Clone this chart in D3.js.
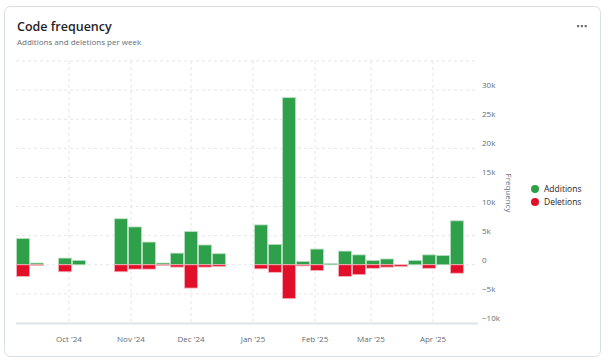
<!DOCTYPE html>
<html lang="en">
<head>
  <meta charset="UTF-8">
  <title>Code frequency</title>
  <script src="https://d3js.org/d3.v7.min.js"></script>
  <style>
    body { margin: 0; background: #fff; font-family: "Open Sans", "Noto Sans", sans-serif; }
  </style>
</head>
<body>
  <svg width="606" height="363"></svg>

  <script>
    // Weekly data (week start, Sunday)
    const firstWeek = "2024-09-08";
    const weekCount = 33;
    const additions = [4500, 300, 0, 1150, 750, 0, 0, 7900, 6500, 3900, 300, 2000, 5700, 3400, 1900, 0, 0,
                       6850, 3500, 28700, 570, 2700, 200, 2350, 1700, 750, 1000, 0, 750, 1700, 1600, 7550, 0];
    const deletions = [-2000, -100, 0, -1200, 0, 0, 0, -1200, -750, -750, -100, -400, -4000, -400, -300, 0, 0,
                       -700, -1300, -5800, -200, -1000, 0, -2000, -1700, -600, -400, -300, 0, -600, 0, -1450, 0];
    const yTicks = [-10000, -5000, 0, 5000, 10000, 15000, 20000, 25000, 30000];
    const monthTicks = ["2024-10-01", "2024-11-01", "2024-12-01", "2025-01-01", "2025-02-01", "2025-03-01", "2025-04-01"];
    const legendItems = ["Additions", "Deletions"];

    const green = "#2fa04a";
    const red = "#e20f2b";

    const svg = d3.select("svg");
    const parse = d3.timeParse("%Y-%m-%d");
    const start = parse(firstWeek);
    const weeks = d3.range(weekCount).map(i => d3.timeDay.offset(start, i * 7));
    const halfWeek = 3.5 * 24 * 3600 * 1000;

    const x = d3.scaleTime()
      .domain([new Date(+weeks[0] - halfWeek), new Date(+weeks[weekCount - 1] + halfWeek)])
      .range([16, 478]);
    const y = d3.scaleLinear().domain([-10000, 35000]).range([323, 61]);
    const bw = x(weeks[1]) - x(weeks[0]);

    // card
    svg.append("rect")
      .attr("x", 4.5).attr("y", 6.5).attr("width", 596).attr("height", 350)
      .attr("rx", 6).attr("fill", "#fff").attr("stroke", "#d8dee4");

    svg.append("text").attr("x", 17).attr("y", 31)
      .attr("font-size", 12.5).attr("font-weight", 600).attr("fill", "#1f2328")
      .text("Code frequency");
    svg.append("text").attr("x", 17).attr("y", 45)
      .attr("font-size", 8).attr("fill", "#656d76")
      .text("Additions and deletions per week");

    // menu dots
    svg.selectAll(".dot").data([0, 1, 2]).enter().append("rect")
      .attr("x", d => 577 + d * 3.8).attr("y", 25).attr("width", 2.2).attr("height", 2.2)
      .attr("fill", "#6b737d");

    // horizontal grid
    svg.selectAll(".hgrid").data(d3.range(-5000, 35001, 5000)).enter().append("line")
      .attr("x1", 16).attr("x2", 478)
      .attr("y1", d => y(d)).attr("y2", d => y(d))
      .attr("stroke", "#e4e6e9").attr("stroke-dasharray", "3,3");

    // vertical grid
    svg.selectAll(".vgrid").data(monthTicks.map(parse)).enter().append("line")
      .attr("x1", d => x(d)).attr("x2", d => x(d))
      .attr("y1", 61).attr("y2", 323)
      .attr("stroke", "#e4e6e9").attr("stroke-dasharray", "3,3");

    // bottom axis line
    svg.append("line").attr("x1", 16).attr("x2", 478).attr("y1", 323.5).attr("y2", 323.5)
      .attr("stroke", "#dfe3e8").attr("stroke-width", 2);

    // bars
    svg.selectAll(".add").data(weeks.filter((d, i) => additions[i] > 0)).enter().append("rect")
      .attr("x", d => x(d) - bw / 2 + 0.5)
      .attr("width", bw - 1)
      .attr("y", d => y(additions[weeks.indexOf(d)]))
      .attr("height", d => y(0) - y(additions[weeks.indexOf(d)]))
      .attr("fill", green).attr("stroke", "#b9dfc1").attr("stroke-width", 0.8);

    svg.selectAll(".del").data(weeks.filter((d, i) => deletions[i] < 0)).enter().append("rect")
      .attr("x", d => x(d) - bw / 2 + 0.5)
      .attr("width", bw - 1)
      .attr("y", y(0))
      .attr("height", d => y(deletions[weeks.indexOf(d)]) - y(0))
      .attr("fill", red).attr("stroke", "#f4b3bb").attr("stroke-width", 0.8);

    // y tick labels
    svg.selectAll(".ylab").data(yTicks).enter().append("text")
      .attr("x", 482).attr("y", d => y(d) - 2)
      .attr("font-size", 8).attr("fill", "#656d76")
      .text(d => d === 0 ? "0" : d3.format("d")(d / 1000) + "k");

    // x tick labels
    const fmt = d3.timeFormat("%b '%y");
    svg.selectAll(".xlab").data(monthTicks.map(parse)).enter().append("text")
      .attr("x", d => x(d)).attr("y", 342)
      .attr("text-anchor", "middle").attr("font-size", 8).attr("fill", "#656d76")
      .text(d => fmt(d));

    // axis title
    svg.append("text")
      .attr("transform", "translate(506,193) rotate(90)")
      .attr("text-anchor", "middle").attr("font-size", 8).attr("fill", "#656d76")
      .text("Frequency");

    // legend
    const legend = svg.selectAll(".legend").data(legendItems).enter().append("g")
      .attr("transform", (d, i) => `translate(535,${189 + i * 13})`);
    legend.append("circle").attr("r", 4).attr("fill", (d, i) => i === 0 ? green : red);
    legend.append("text").attr("x", 9).attr("y", 3)
      .attr("font-size", 8.5).attr("fill", "#1f2328").text(d => d);
  </script>
</body>
</html>
